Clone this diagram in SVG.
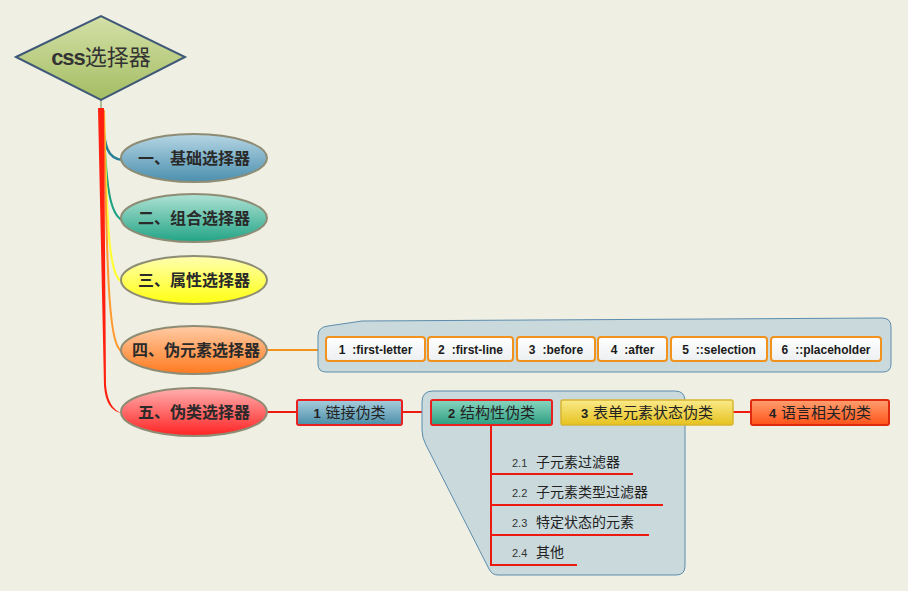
<svg xmlns="http://www.w3.org/2000/svg" width="908" height="591" viewBox="0 0 908 591">
<defs>
<linearGradient id="gDia" x1="0" y1="0" x2="0" y2="1"><stop offset="0" stop-color="#d4e0a8"/><stop offset="1" stop-color="#a4bd62"/></linearGradient>
<linearGradient id="g1" x1="0" y1="0" x2="0" y2="1"><stop offset="0" stop-color="#b6d6e4"/><stop offset="1" stop-color="#4b8fae"/></linearGradient>
<linearGradient id="g2" x1="0" y1="0" x2="0" y2="1"><stop offset="0" stop-color="#b0e2d4"/><stop offset="1" stop-color="#22a486"/></linearGradient>
<linearGradient id="g3" x1="0" y1="0" x2="0" y2="1"><stop offset="0" stop-color="#ffffb0"/><stop offset="1" stop-color="#ffff10"/></linearGradient>
<linearGradient id="g4" x1="0" y1="0" x2="0" y2="1"><stop offset="0" stop-color="#ffcca6"/><stop offset="1" stop-color="#ff7a1e"/></linearGradient>
<linearGradient id="g5" x1="0" y1="0" x2="0" y2="1"><stop offset="0" stop-color="#ffb0b0"/><stop offset="1" stop-color="#ff2222"/></linearGradient>
<linearGradient id="gW" x1="0" y1="0" x2="0" y2="1"><stop offset="0" stop-color="#ffffff"/><stop offset="1" stop-color="#eceff0"/></linearGradient>
<linearGradient id="gB1" x1="0" y1="0" x2="0" y2="1"><stop offset="0" stop-color="#a8cede"/><stop offset="1" stop-color="#4a8ea8"/></linearGradient>
<linearGradient id="gB2" x1="0" y1="0" x2="0" y2="1"><stop offset="0" stop-color="#8ad6c0"/><stop offset="1" stop-color="#2c9e80"/></linearGradient>
<linearGradient id="gB3" x1="0" y1="0" x2="0" y2="1"><stop offset="0" stop-color="#faea8a"/><stop offset="1" stop-color="#e6c21e"/></linearGradient>
<linearGradient id="gB4" x1="0" y1="0" x2="0" y2="1"><stop offset="0" stop-color="#ffa070"/><stop offset="1" stop-color="#ff5218"/></linearGradient>
</defs>
<style>
.ell{stroke:#8e8c74;stroke-width:2}
.et{font-family:"Noto Sans CJK SC","Noto Sans",sans-serif;font-weight:700;font-size:16px;fill:#2a2a2a;text-anchor:middle}
.pe{stroke:#f0921c;stroke-width:2;fill:url(#gW)}
.pt{font-family:"Liberation Sans",Arial,sans-serif;font-weight:700;font-size:12px;fill:#1a1a1a;text-anchor:middle}
.pc{stroke:#e82020;stroke-width:2}
.ct{font-family:"Noto Sans CJK SC","Noto Sans",sans-serif;font-size:15px;fill:#222;text-anchor:middle}
.num{font-family:"Liberation Sans",Arial,sans-serif;font-weight:700;font-size:13px}
.sub{font-family:"Noto Sans CJK SC","Noto Sans",sans-serif;font-size:14px;fill:#222}
.sn{font-family:"Liberation Sans",Arial,sans-serif;font-size:11px;fill:#333}
.panel{fill:#c9d9dc;stroke:#5d8cae;stroke-width:1}
.red{stroke:#ec1a10;stroke-width:2;fill:none}
</style>
<rect width="908" height="591" fill="#eff0e3"/>

<g id="connectors">
<path d="M101,100 L101,110" stroke="#6a8a50" stroke-width="1" fill="none"/>
<path d="M102,110 C104,150 108,158 122,160" stroke="#2a7f96" stroke-width="2.5" fill="none"/>
<path d="M103,110 C106,190 110,214 122,220" stroke="#1aa082" stroke-width="2" fill="none"/>
<path d="M104,110 C107,240 110,276 122,282" stroke="#ffff30" stroke-width="2" fill="none"/>
<path d="M104,110 C107,300 110,344 122,352" stroke="#ff9a30" stroke-width="2" fill="none"/>
<path d="M98,108 L104,108 L106,385 Q108,409 122,413 Q106,411 104,386 Z" fill="#ff2010"/>
<path d="M267,350 L326,350" stroke="#f0921c" stroke-width="2"/>
<path d="M425,350 L428,350 M513,350 L517,350 M595,350 L598,350 M667,350 L671,350 M767,350 L771,350" stroke="#f0921c" stroke-width="2"/>
<path d="M267,412 L297,412 M402,412 L431,412 M552,412 L561,412 M733,412 L751,412" class="red"/>
</g>

<g id="panel-pe"><path class="panel" d="M318,336 Q318,327 328,326 L362,321 L882,318 Q891,318 891,327 L891,364 Q891,372 883,372 L326,372 Q318,372 318,364 Z"/></g>
<g id="panel-struct"><path class="panel" d="M422,402 Q422,391 433,391 L675,391 Q685,391 685,401 L685,566 Q685,575 676,575 L498,575 Q492,575 489,569 L426,445 Q422,438 422,430 Z"/></g>

<g id="root">
<polygon points="16,57 101,16 185,57 101,100" fill="url(#gDia)" stroke="#3f5878" stroke-width="2"/>
<text x="101" y="65" text-anchor="middle" font-size="22" fill="#333"><tspan font-family="Liberation Sans,Arial,sans-serif" font-weight="700" letter-spacing="-1">css</tspan><tspan font-family="Noto Sans CJK SC,sans-serif">选择器</tspan></text>
</g>

<g id="n1"><ellipse class="ell" cx="194" cy="158" rx="73" ry="24" fill="url(#g1)"/><text class="et" x="194" y="164">一、基础选择器</text></g>
<g id="n2"><ellipse class="ell" cx="194" cy="218" rx="73" ry="24" fill="url(#g2)"/><text class="et" x="194" y="224">二、组合选择器</text></g>
<g id="n3"><ellipse class="ell" cx="194" cy="280" rx="73" ry="24" fill="url(#g3)"/><text class="et" x="194" y="286">三、属性选择器</text></g>
<g id="n4"><ellipse class="ell" cx="194" cy="350" rx="73" ry="24" fill="url(#g4)"/><text class="et" x="196" y="356">四、伪元素选择器</text></g>
<g id="n5"><ellipse class="ell" cx="194" cy="412" rx="73" ry="24" fill="url(#g5)"/><text class="et" x="194" y="418">五、伪类选择器</text></g>

<g id="pe1"><rect class="pe" x="326" y="337" width="99" height="24" rx="3"/><text class="pt" x="375.5" y="354">1<tspan dx="7">:first-letter</tspan></text></g>
<g id="pe2"><rect class="pe" x="428" y="337" width="85" height="24" rx="3"/><text class="pt" x="470.5" y="354">2<tspan dx="7">:first-line</tspan></text></g>
<g id="pe3"><rect class="pe" x="517" y="337" width="78" height="24" rx="3"/><text class="pt" x="556" y="354">3<tspan dx="7">:before</tspan></text></g>
<g id="pe4"><rect class="pe" x="598" y="337" width="69" height="24" rx="3"/><text class="pt" x="632.5" y="354">4<tspan dx="7">:after</tspan></text></g>
<g id="pe5"><rect class="pe" x="671" y="337" width="96" height="24" rx="3"/><text class="pt" x="719" y="354">5<tspan dx="7">::selection</tspan></text></g>
<g id="pe6"><rect class="pe" x="771" y="337" width="110" height="24" rx="3"/><text class="pt" x="826" y="354">6<tspan dx="7">::placeholder</tspan></text></g>

<g id="pc1"><rect class="pc" x="297" y="400" width="105" height="25" rx="2" fill="url(#gB1)"/><text class="ct" x="349.5" y="418"><tspan class="num">1</tspan><tspan dx="5">链接伪类</tspan></text></g>
<g id="pc2"><rect class="pc" x="431" y="400" width="121" height="25" rx="2" fill="url(#gB2)"/><text class="ct" x="491.5" y="418"><tspan class="num">2</tspan><tspan dx="5">结构性伪类</tspan></text></g>
<g id="pc3"><rect x="561" y="400" width="172" height="25" rx="2" fill="url(#gB3)" stroke="#d8b630" stroke-width="1.5"/><text class="ct" x="647" y="418"><tspan class="num">3</tspan><tspan dx="5">表单元素状态伪类</tspan></text></g>
<g id="pc4"><rect x="751" y="400" width="138" height="25" rx="2" fill="url(#gB4)" stroke="#e02a10" stroke-width="2"/><text class="ct" x="820" y="418"><tspan class="num">4</tspan><tspan dx="5">语言相关伪类</tspan></text></g>

<g id="struct-lines">
<path class="red" d="M491,425 L491,566 M491,474 L633,474 M491,505 L663,505 M491,535 L649,535 M491,565 L577,565"/>
</g>
<g id="s1"><text class="sn" x="512" y="467">2.1</text><text class="sub" x="536" y="467">子元素过滤器</text></g>
<g id="s2"><text class="sn" x="512" y="497">2.2</text><text class="sub" x="536" y="497">子元素类型过滤器</text></g>
<g id="s3"><text class="sn" x="512" y="527">2.3</text><text class="sub" x="536" y="527">特定状态的元素</text></g>
<g id="s4"><text class="sn" x="512" y="557">2.4</text><text class="sub" x="536" y="557">其他</text></g>
</svg>
